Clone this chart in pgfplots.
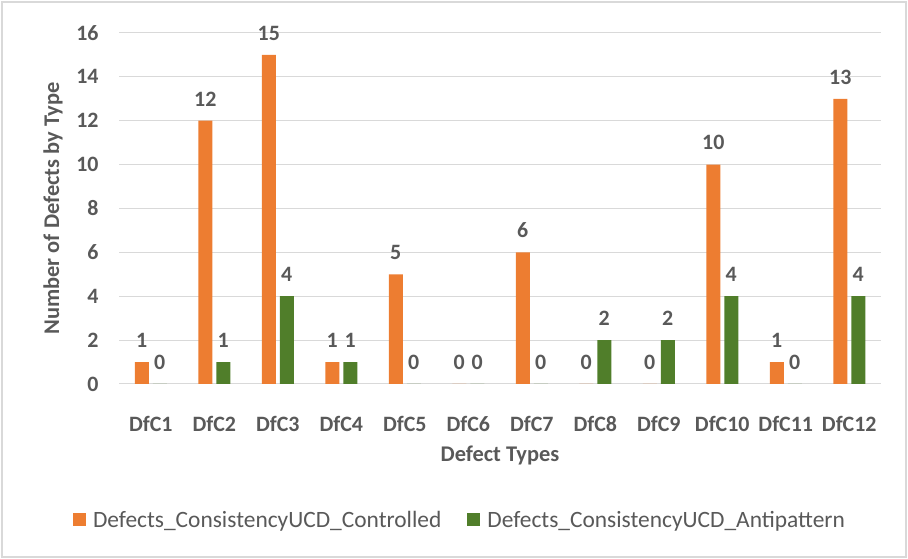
\documentclass[border=0pt]{standalone}
\usepackage{pgfplots}
\pgfplotsset{compat=1.18}
\usepackage{fontspec}
\setmainfont{Carlito}
\definecolor{corange}{HTML}{ED7D31}
\definecolor{cgreen}{HTML}{507E2A}
\definecolor{ctext}{HTML}{595959}
\definecolor{cgrid}{HTML}{D9D9D9}
\begin{document}
\begin{tikzpicture}[x=1bp,y=1bp]
\useasboundingbox (0,0) rectangle (908,559);
\draw[cgrid,line width=1.2bp] (2,2) rectangle (906,557);
\begin{axis}[
  at={(119bp,175bp)}, anchor=south west,
  scale only axis, width=762bp, height=351bp,
  ybar=4bp, bar width=14bp,
  xmin=-0.5, xmax=11.5, ymin=0, ymax=16,
  xtick=data,
  xticklabels={DfC1,DfC2,DfC3,DfC4,DfC5,DfC6,DfC7,DfC8,DfC9,DfC10,DfC11,DfC12},
  ytick={0,2,...,16},
  /pgf/number format/assume math mode=true,
  tick label style={font=\fontsize{22}{24}\selectfont\bfseries, text=ctext},
  xticklabel style={yshift=-29bp},
  yticklabel style={xshift=-17bp},
  major tick length=0pt,
  axis lines*=left,
  y axis line style={draw=none},
  x axis line style={cgrid, line width=1bp},
  ymajorgrids, grid style={cgrid, line width=1bp},
  xlabel={Defect Types},
  ylabel={Number of Defects by Type},
  label style={font=\fontsize{22.5}{24}\selectfont\bfseries, text=ctext},
  xlabel style={at={(axis description cs:0.5,0)}, anchor=center, yshift=-71bp},
  ylabel style={at={(axis description cs:0,0.5)}, anchor=center, yshift=66bp},
  nodes near coords,
  every node near coord/.append style={font=\fontsize{22}{24}\selectfont\bfseries, text=ctext, anchor=south, yshift=11bp},
  legend style={at={(341bp,-136bp)}, anchor=center, draw=none,
    /tikz/every odd column/.append style={column sep=5bp},
    /tikz/every even column/.append style={column sep=24bp},
    font=\fontsize{23.5}{25}\selectfont, text=ctext, legend columns=2, nodes={inner sep=2bp}},
  legend image code/.code={\fill[#1] (0bp,-6bp) rectangle (13bp,7bp);},
  clip=false,
]
\addplot[fill=corange, draw=none] coordinates {(0,1) (1,12) (2,15) (3,1) (4,5) (5,0) (6,6) (7,0) (8,0) (9,10) (10,1) (11,13)};
\addplot[fill=cgreen, draw=none] coordinates {(0,0) (1,1) (2,4) (3,1) (4,0) (5,0) (6,0) (7,2) (8,2) (9,4) (10,0) (11,4)};
\legend{Defects\_ConsistencyUCD\_Controlled, Defects\_ConsistencyUCD\_Antipattern}
\end{axis}
\end{tikzpicture}
\end{document}
